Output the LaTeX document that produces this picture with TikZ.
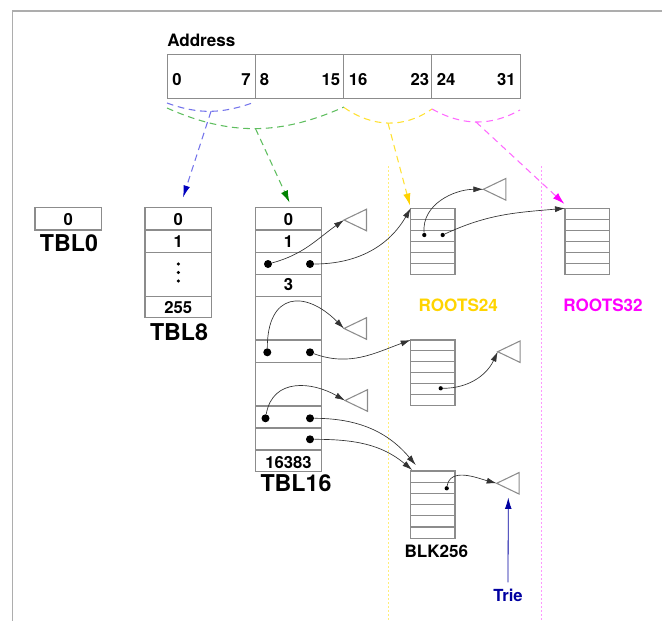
\documentclass[tikz,border=0pt]{standalone}
\usepackage{fontspec}
\setmainfont{TeX Gyre Heros}
\usetikzlibrary{arrows.meta}
\definecolor{cellline}{gray}{0.55}
\definecolor{framec}{gray}{0.68}
\definecolor{bluel}{RGB}{115,115,235}
\definecolor{bluet}{RGB}{0,0,190}
\definecolor{greenl}{RGB}{95,190,95}
\definecolor{greent}{RGB}{0,130,0}
\definecolor{yell}{RGB}{255,225,50}
\definecolor{yelt}{RGB}{255,210,0}
\definecolor{magl}{RGB}{255,105,255}
\definecolor{magt}{RGB}{255,0,255}
\definecolor{ydotc}{RGB}{255,238,120}
\definecolor{mdotc}{RGB}{255,150,255}
\definecolor{gold}{RGB}{255,212,0}
\definecolor{triec}{RGB}{0,0,160}
\begin{document}
\begin{tikzpicture}[x=0.75pt,y=-0.75pt,
  cell/.style={draw=cellline,line width=0.8pt,inner sep=0pt,outer sep=0pt,anchor=north west},
  rowline/.style={draw=cellline,line width=0.8pt},
  trishape/.style={draw=cellline,line width=0.8pt},
  ptr/.style={draw=black!80,line width=0.5pt,-{Latex[length=7.5pt,width=4.5pt]}},
  bigdot/.style={circle,fill=black,inner sep=0pt,minimum size=6pt},
  smalldot/.style={circle,fill=black,inner sep=0pt,minimum size=3.2pt},
  num/.style={font=\fontsize{12.5}{14}\selectfont\bfseries,inner sep=0pt,anchor=base},
  big/.style={font=\fontsize{17.4}{20}\selectfont\bfseries,inner sep=0pt,anchor=base},
  lbl/.style={font=\fontsize{12.8}{15}\selectfont\bfseries,inner sep=0pt,anchor=base},
  dashline/.style={line width=0.8pt,dash pattern=on 5pt off 3.5pt},
  dotline/.style={line width=0.8pt,dash pattern=on 1.2pt off 1.8pt}]
\useasboundingbox (0,0) rectangle (662,621);

% window frame
\draw[framec,line width=1.4pt] (12.5,621) -- (12.5,11) -- (662,11);

% separators for the last two levels
\draw[dotline,ydotc] (388.3,166) -- (388.3,621);
\draw[dotline,mdotc] (541.7,166) -- (541.7,621);

% address register
\node[lbl,anchor=base west] (addr) at (167,46) {Address};
\foreach \i/\x in {1/167.3,2/255.5,3/343.7,4/431.9}
  \node[cell,minimum width=66.15pt,minimum height=33pt] (f\i) at (\x,54.3) {};
\node[num,anchor=base west] (n0) at (172,85) {0};
\node[num,anchor=base east] (n7) at (251,85) {7};
\node[num,anchor=base west] (n8) at (259.5,85) {8};
\node[num,anchor=base east] (n15) at (340.5,85) {15};
\node[num,anchor=base west] (n16) at (348.5,85) {16};
\node[num,anchor=base east] (n23) at (429.3,85) {23};
\node[num,anchor=base west] (n24) at (436.5,85) {24};
\node[num,anchor=base east] (n31) at (516,85) {31};

% bit-field braces
\coordinate (bl0) at (167,103);   \coordinate (bl1) at (255,102);
\coordinate (gr0) at (167,108);   \coordinate (gr1) at (344,107);
\coordinate (ye0) at (344,107.5); \coordinate (ye1) at (432,109);
\coordinate (ma0) at (432,109);   \coordinate (ma1) at (520,110);
\draw[dashline,bluel] (bl0) to[out=-20,in=200] coordinate[pos=0.5] (blm) (bl1);
\draw[dashline,greenl] (gr0) to[out=-24,in=204] coordinate[pos=0.5] (grm) (gr1);
\draw[dashline,yell] (ye0) to[out=-35,in=215] coordinate[pos=0.5] (yem) (ye1);
\draw[dashline,magl] (ma0) to[out=-29,in=209] coordinate[pos=0.5] (mam) (ma1);

% TBL0
\node[cell,minimum width=50pt,minimum height=16.7pt] (tbl0) at (35,207.7) {};
\node[num] (z0) at (68.3,225.7) {0};
\node[big] (tbl0lbl) at (69,251.7) {TBL0};

% TBL8
\node[cell,minimum width=50pt,minimum height=82.2pt] (tbl8) at (145,207.7) {};
\foreach \y in {230,252.3,296.7} \draw[rowline] (145,\y) -- (211.7,\y);
\node[num] (e0) at (178.3,225.7) {0};
\node[num] (e1) at (178.3,247.3) {1};
\foreach \y in {264,272.5,281} \fill (178.3,\y) circle (1.3pt);
\node[num] (e255) at (178.3,313.3) {255};
\node[big] (tbl8lbl) at (179,340) {TBL8};

% TBL16
\node[cell,minimum width=49.8pt,minimum height=198pt] (tbl16) at (255.3,207.7) {};
\foreach \y in {230,252.3,274.3,296.7,340,362.3,406,428,450}
  \draw[rowline] (255.3,\y) -- (321.7,\y);
\node[num] (s0) at (288.5,225.7) {0};
\node[num] (s1) at (288.5,247.3) {1};
\node[num] (s3) at (288.5,290.7) {3};
\node[num] (s16383) at (288.5,468.3) {16383};
\node[big] (tbl16lbl) at (296,491.7) {TBL16};

\node[bigdot] (d2l) at (268,264) {};
\node[bigdot] (d2r) at (310,264) {};
\node[bigdot] (d5l) at (267.3,352.3) {};
\node[bigdot] (d5r) at (310,352.3) {};
\node[bigdot] (d7l) at (265.5,418.3) {};
\node[bigdot] (d7r) at (310,418.3) {};
\node[bigdot] (d8r) at (310,439.3) {};

% ROOTS24 / ROOTS32 / BLK256 blocks
\node[cell,minimum width=33.2pt,minimum height=49.5pt] (r24a) at (410.7,208.3) {};
\node[cell,minimum width=33.2pt,minimum height=49.5pt] (r32) at (565,208.3) {};
\node[cell,minimum width=33.2pt,minimum height=48.8pt] (r24b) at (410.7,340) {};
\node[cell,minimum width=33.2pt,minimum height=50.5pt] (blk) at (410.7,471) {};
\foreach \k in {1,...,5} {
  \draw[rowline] (410.7,208.3+11*\k) -- (455,208.3+11*\k);
  \draw[rowline] (565,208.3+11*\k) -- (609.3,208.3+11*\k);
  \draw[rowline] (410.7,340+10.85*\k) -- (455,340+10.85*\k);
  \draw[rowline] (410.7,471+11.2*\k) -- (455,471+11.2*\k);
}
\node[smalldot] (ra1) at (424.3,235) {};
\node[smalldot] (ra2) at (442.7,235) {};
\node[smalldot] (rb1) at (440.7,388.3) {};
\node[smalldot] (bk1) at (446.7,488.3) {};

\node[lbl,text=gold] (r24lbl) at (458.3,311.7) {ROOTS24};
\node[lbl,text=magt] (r32lbl) at (603,311.7) {ROOTS32};
\node[lbl] (blklbl) at (436.3,557.3) {BLK256};
\node[lbl,text=triec,font=\fontsize{12.5}{15}\selectfont\bfseries] (trie) at (508,601.7) {Trie};

% tries (left-pointing triangles)
\coordinate (t1) at (344,220);
\coordinate (t2) at (344,328.5);
\coordinate (t3) at (345,400.5);
\coordinate (ta) at (483.3,189.3);
\coordinate (tb) at (497.7,351.7);
\coordinate (tk) at (496.7,483.3);
\foreach \t in {t1,t2,t3,ta,tb,tk}
  \draw[trishape] (\t) -- ++(22.5,-10.8) -- ++(0,21.6) -- cycle;
\coordinate (tkb) at (508.3,497.5);

% level selectors
\coordinate (tbl8in) at (183,197.5);
\coordinate (tbl16in) at (289.5,202.5);
\coordinate (r24in) at (410,205.5);
\coordinate (r32in) at (564.5,204);
\draw[dashline,bluel,-{Latex[length=9pt,width=5pt,color=bluet]}] (blm) -- (tbl8in);
\draw[dashline,greenl,-{Latex[length=9pt,width=5.5pt,color=greent]}] (grm) -- (tbl16in);
\draw[dashline,yell,-{Latex[length=9pt,width=5.5pt,color=yelt]}] (yem) -- (r24in);
\draw[dashline,magl,-{Latex[length=9pt,width=5.5pt,color=magt]}] (mam) -- (r32in);

% pointers
\draw[ptr] (d2l) to[out=15,in=215] (t1);
\draw[ptr] (d2r) to[out=0,in=240] (r24a.north west);
\draw[ptr] (d5l) to[out=90,in=135,looseness=1.8] (t2);
\draw[ptr] (d5r) to[out=-20,in=200] (r24b.north west);
\draw[ptr] (d7l) to[out=80,in=150,looseness=1.2] (t3);
\draw[ptr] (d7r) to[out=0,in=130] ([shift={(5,-6)}]blk.north west);
\draw[ptr] (d8r) to[out=0,in=140] ([shift={(1.5,-1)}]blk.north west);
\draw[ptr] (ra1) to[out=95,in=180] (ta);
\draw[ptr] (ra2) to[out=25,in=185] (r32.north west);
\draw[ptr] (rb1) to[out=0,in=245] (tb);
\draw[ptr] (bk1) to[out=80,in=165] (tk);
\draw[draw=triec,line width=0.6pt,-{Latex[length=8.5pt,width=5pt]}] ([yshift=5pt]trie.north) -- (tkb);
\end{tikzpicture}
\end{document}
